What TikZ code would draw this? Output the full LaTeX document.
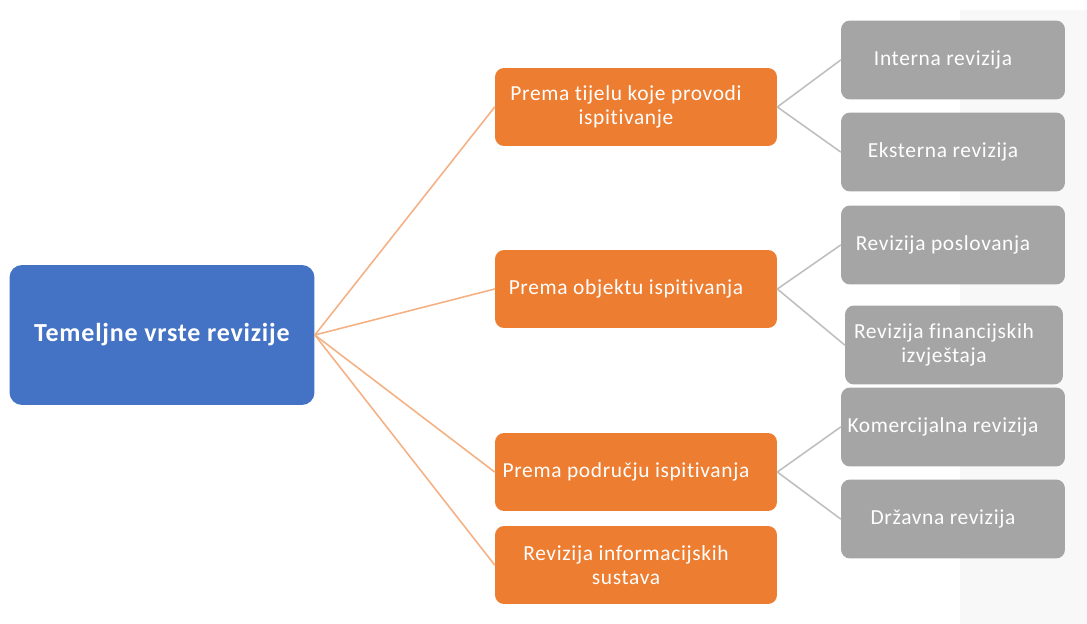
\documentclass[tikz,border=0pt]{standalone}
\usepackage{fontspec}
\setmainfont{Carlito}[LetterSpace=3,Ligatures=NoCommon]
\usepackage{tikz}
\usetikzlibrary{positioning}
\definecolor{rootblue}{HTML}{4472C4}
\definecolor{branchorange}{HTML}{ED7D31}
\definecolor{leafgray}{HTML}{A5A5A5}
\definecolor{orangeline}{HTML}{F4B183}
\definecolor{grayline}{HTML}{BFBFBF}
\definecolor{sidegray}{HTML}{F8F8F8}
\tikzset{
  rootbox/.style={draw=none,fill=rootblue,rounded corners=0.25cm,text=white,
    minimum width=6.1cm,minimum height=2.8cm,align=center,
    font=\fontsize{14.8}{17}\selectfont\bfseries},
  boxtext/.style={text=white,align=center,xshift=-0.2cm,
    font=\fontsize{12.2}{13.3}\selectfont},
  branchbox/.style={draw=none,fill=branchorange,rounded corners=0.18cm,
    minimum width=5.64cm,minimum height=1.56cm,label={[boxtext]center:#1}},
  leafbox/.style={draw=none,fill=leafgray,rounded corners=0.18cm,
    minimum width=4.48cm,minimum height=1.58cm,label={[boxtext]center:#1}},
  rootlink/.style={draw=orangeline,line width=0.9pt},
  leaflink/.style={draw=grayline,line width=0.9pt}
}
\begin{document}
\begin{tikzpicture}[line cap=round,line join=round,x=0.02cm,y=-0.02cm]
\useasboundingbox (0,0) rectangle (1087,624);
\fill [sidegray] (960,10) rectangle (1087,624);

% root
\node [rootbox] (root) at (162,335) {Temeljne vrste revizije};

% branches
\node [branchbox={Prema tijelu koje provodi\\ispitivanje}] (tijelo) at (636,107) {};
\node [branchbox={Prema objektu ispitivanja}] (objekt) at (636,289) {};
\node [branchbox={Prema području ispitivanja}] (podrucje) at (636,472) {};
\node [branchbox={Revizija informacijskih\\sustava}] (info) at (636,565) {};

% leaves
\node [leafbox={Interna revizija}] (interna) at (953,60) {};
\node [leafbox={Eksterna revizija}] (eksterna) at (953,152) {};
\node [leafbox={Revizija poslovanja}] (poslovanje) at (953,245) {};
\node [leafbox={Revizija financijskih\\izvještaja},minimum width=4.36cm] (financ) at (954,345) {};
\node [leafbox={Komercijalna revizija}] (komerc) at (953,427) {};
\node [leafbox={Državna revizija}] (drzavna) at (953,519) {};

\draw [rootlink] (root.east) -- (tijelo.west);
\draw [rootlink] (root.east) -- (objekt.west);
\draw [rootlink] (root.east) -- (podrucje.west);
\draw [rootlink] (root.east) -- (info.west);

\draw [leaflink] (tijelo.east) -- (interna.west);
\draw [leaflink] (tijelo.east) -- (eksterna.west);
\draw [leaflink] (objekt.east) -- (poslovanje.west);
\draw [leaflink] (objekt.east) -- (financ.west);
\draw [leaflink] (podrucje.east) -- (komerc.west);
\draw [leaflink] (podrucje.east) -- (drzavna.west);
\end{tikzpicture}
\end{document}
